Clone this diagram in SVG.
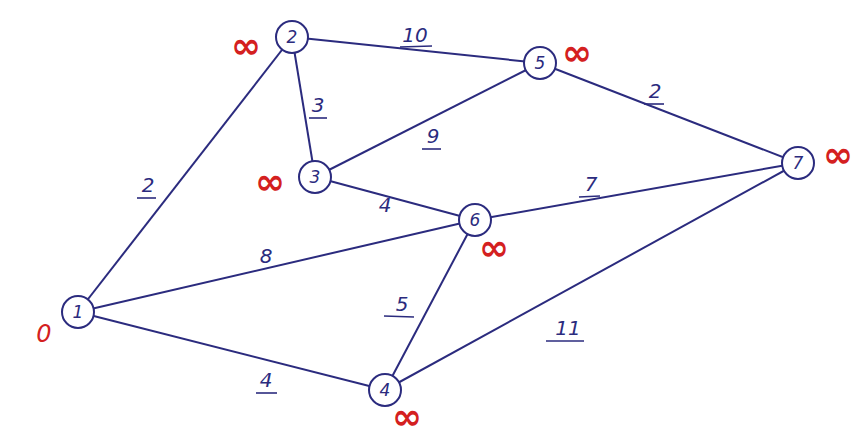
<svg xmlns="http://www.w3.org/2000/svg" width="865" height="438" viewBox="0 0 865 438">
<style>
.node circle{fill:#fff;stroke:#2b2b7e;stroke-width:2}
.node text{font-family:"DejaVu Sans",sans-serif;font-style:italic;font-size:17px;fill:#2b2b7e;text-anchor:middle;dominant-baseline:central}
.edges line{stroke:#2b2b7e;stroke-width:2}
.w{font-family:"DejaVu Sans",sans-serif;font-style:italic;font-size:20px;fill:#2b2b7e;text-anchor:middle}
.u{stroke:#2b2b7e;stroke-width:1.6}
.d{font-family:"DejaVu Sans",sans-serif;font-weight:bold;font-size:36px;fill:#d42020;text-anchor:middle}
</style>
<rect width="865" height="438" fill="#fff"/>
<g id="connectors" class="edges">
<line x1="78" y1="312" x2="292" y2="37"/>
<line x1="78" y1="312" x2="475" y2="220"/>
<line x1="78" y1="312" x2="385" y2="390"/>
<line x1="292" y1="37" x2="540" y2="63"/>
<line x1="292" y1="37" x2="315" y2="177"/>
<line x1="315" y1="177" x2="540" y2="63"/>
<line x1="315" y1="177" x2="475" y2="220"/>
<line x1="540" y1="63" x2="798" y2="163"/>
<line x1="475" y1="220" x2="798" y2="163"/>
<line x1="475" y1="220" x2="385" y2="390"/>
<line x1="385" y1="390" x2="798" y2="163"/>
</g>
<g id="weights">
<text class="w" x="415" y="42">10</text><line class="u" x1="400" y1="47" x2="432" y2="46"/>
<text class="w" x="655" y="98">2</text><line class="u" x1="644" y1="104" x2="664" y2="104"/>
<text class="w" x="318" y="112">3</text><line class="u" x1="309" y1="118" x2="327" y2="118"/>
<text class="w" x="433" y="143">9</text><line class="u" x1="422" y1="149" x2="441" y2="149"/>
<text class="w" x="148" y="192">2</text><line class="u" x1="137" y1="198" x2="156" y2="198"/>
<text class="w" x="385" y="212">4</text>
<text class="w" x="591" y="191">7</text><line class="u" x1="579" y1="197" x2="600" y2="196"/>
<text class="w" x="266" y="263">8</text>
<text class="w" x="402" y="311">5</text><line class="u" x1="384" y1="316" x2="414" y2="317"/>
<text class="w" x="568" y="335">11</text><line class="u" x1="546" y1="341" x2="584" y2="341"/>
<text class="w" x="266" y="387">4</text><line class="u" x1="256" y1="393" x2="277" y2="393"/>
</g>
<g id="node1" class="node"><circle cx="78" cy="312" r="16"/><text x="78" y="312">1</text></g>
<g id="node2" class="node"><circle cx="292" cy="37" r="16"/><text x="292" y="37">2</text></g>
<g id="node3" class="node"><circle cx="315" cy="177" r="16"/><text x="315" y="177">3</text></g>
<g id="node4" class="node"><circle cx="385" cy="390" r="16"/><text x="385" y="390">4</text></g>
<g id="node5" class="node"><circle cx="540" cy="63" r="16"/><text x="540" y="63">5</text></g>
<g id="node6" class="node"><circle cx="475" cy="220" r="16"/><text x="475" y="220">6</text></g>
<g id="node7" class="node"><circle cx="798" cy="163" r="16"/><text x="798" y="163">7</text></g>
<g id="distances">
<text class="d" x="44" y="342" style="font-size:24px;font-style:italic;font-weight:normal">0</text>
<text class="d" x="246" y="58">∞</text>
<text class="d" x="577" y="65">∞</text>
<text class="d" x="270" y="194">∞</text>
<text class="d" x="494" y="260">∞</text>
<text class="d" x="838" y="167">∞</text>
<text class="d" x="407" y="429">∞</text>
</g>
</svg>
